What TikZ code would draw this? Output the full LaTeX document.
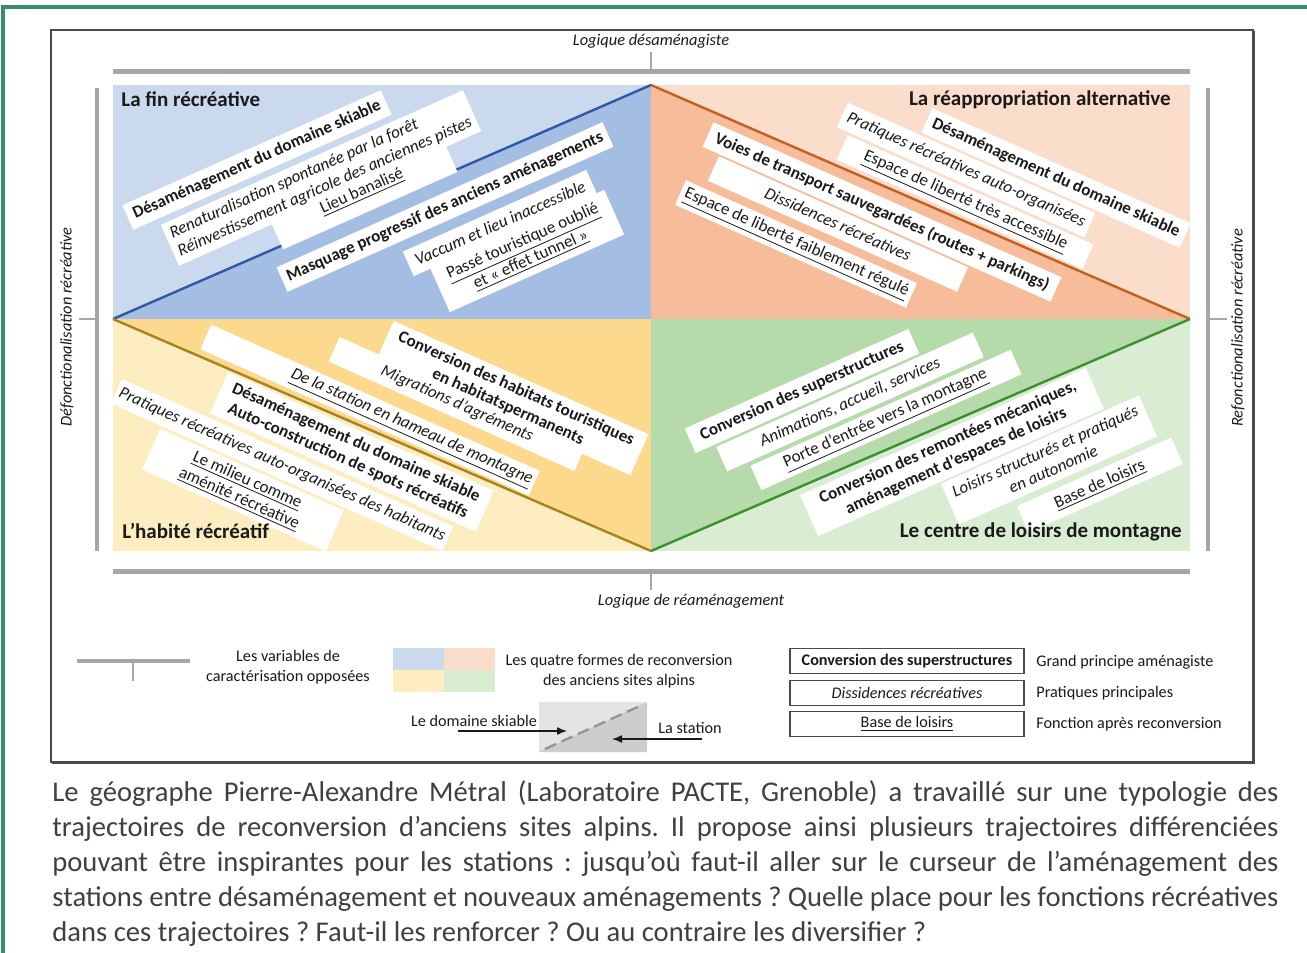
\documentclass[tikz,border=0pt]{standalone}
\usepackage{fontspec}
\setmainfont{Carlito}
\usetikzlibrary{arrows.meta}
\definecolor{blueL}{HTML}{CBD9EE}
\definecolor{blueD}{HTML}{A4BEE3}
\definecolor{blueLine}{HTML}{2E58A6}
\definecolor{orangeL}{HTML}{FBDDCB}
\definecolor{orangeD}{HTML}{F7BD9A}
\definecolor{orangeLine}{HTML}{C55F1F}
\definecolor{yellowL}{HTML}{FDEDC0}
\definecolor{yellowD}{HTML}{FCD98C}
\definecolor{yellowLine}{HTML}{A8831C}
\definecolor{greenL}{HTML}{D8EDD2}
\definecolor{greenD}{HTML}{B6DBAA}
\definecolor{greenLine}{HTML}{3E8E32}
\definecolor{axisgray}{HTML}{A6A6A6}
\definecolor{framegray}{HTML}{4A4A4A}
\definecolor{textc}{HTML}{1A1A1A}
\definecolor{capc}{HTML}{404040}
\definecolor{tealc}{HTML}{3A8C6E}
\definecolor{lgrayA}{HTML}{E4E4E4}
\definecolor{lgrayB}{HTML}{CDCDCD}
\newcommand\boxbf{\fontsize{8.5}{10}\selectfont\bfseries}
\newcommand\boxit{\fontsize{8.5}{10}\selectfont\itshape}
\newcommand\boxrm{\fontsize{8.5}{10}\selectfont}
\newcommand\titlef{\fontsize{10.5}{12}\selectfont\bfseries}
\newcommand\legf{\fontsize{8.1}{10}\selectfont}
\newcommand\axf{\fontsize{8.2}{10}\selectfont\itshape}
\newcommand\capf{\fontsize{14.3}{17.5}\selectfont}
\newcommand\undl[1]{\underline{#1}}
\frenchspacing
\pgfdeclarelayer{back}
\pgfdeclarelayer{boxes}
\pgfsetlayers{back,boxes,main}
\tikzset{
  wb/.style={inner sep=1.5pt, align=center, minimum height=13pt, text=textc},
  bb/.style={wb, font=\boxbf},
  ib/.style={wb, font=\boxit},
  ub/.style={wb, font=\boxrm},
  ttl/.style={font=\titlef, text=textc, inner sep=0pt},
  axl/.style={font=\axf, text=textc, inner sep=0pt},
  lg/.style={font=\legf, text=textc, inner sep=0pt, align=center},
  lbox/.style={draw=framegray, line width=0.8pt, minimum width=117pt, minimum height=12.5pt, inner sep=0pt, text=textc},
  axbar/.style={axisgray, line width=2.5pt},
  axtick/.style={axisgray, line width=1.2pt},
  sidebar/.style={axisgray, line width=1.6pt},
}
\begin{document}
\begin{tikzpicture}[x=0.5pt,y=-0.5pt]
\useasboundingbox (0,0) rectangle (1307,953);
\begin{pgfonlayer}{back}
\fill[white] (0,0) rectangle (1307,953);
\fill[blueL] (113,85) rectangle (651,319);
\fill[orangeL] (651,85) rectangle (1190,319);
\fill[yellowL] (113,319) rectangle (651,551);
\fill[greenL] (651,319) rectangle (1190,551);
\fill[blueD] (113,319) -- (651,85) -- (651,319) -- cycle;
\fill[orangeD] (651,85) -- (1190,319) -- (651,319) -- cycle;
\fill[yellowD] (113,319) -- (651,551) -- (651,319) -- cycle;
\fill[greenD] (1190,319) -- (651,551) -- (651,319) -- cycle;
\draw[blueLine, line width=1.2pt] (113,319) -- (651,85);
\draw[orangeLine, line width=1.2pt] (651,85) -- (1190,319);
\draw[yellowLine, line width=1.2pt] (113,319) -- (651,551);
\draw[greenLine, line width=1.2pt] (651,551) -- (1190,319);
\end{pgfonlayer}
% outer green border
\draw[tealc, line width=1.6pt] (3,953) -- (3,7) -- (1307,7);
% inner frame
\draw[framegray, line width=0.9pt] (51,30) rectangle (1253,762);
\draw[framegray, line width=0.6pt] (1254.5,31) -- (1254.5,763.5) -- (52,763.5);

% axes
\draw[axbar] (113,71) -- (1190,71);
\draw[axtick] (651,52) -- (651,71);
\node[axl] (axT) at (651,41) {Logique désaménagiste};
\draw[axbar] (113,571) -- (1190,571);
\draw[axtick] (651,571) -- (651,590);
\node[axl] (axB) at (691,601) {Logique de réaménagement};
\draw[sidebar] (97,88) -- (97,551);
\draw[axtick] (79,319) -- (97,319);
\node[axl, rotate=90] (axL) at (67,327) {Défonctionalisation récréative};
\draw[sidebar] (1208,88) -- (1208,551);
\draw[axtick] (1208,319) -- (1227,319);
\node[axl, rotate=90] (axR) at (1238,328) {Refonctionalisation récréative};

% quadrant titles
\node[ttl, anchor=west] (q1) at (121,99) {La fin récréative};
\node[ttl, anchor=east] (q2) at (1171,100) {La réappropriation alternative};
\node[ttl, anchor=west] (q3) at (122,531) {L’habité récréatif};
\node[ttl, anchor=east] (q4) at (1182,532) {Le centre de loisirs de montagne};

% top-left
\node[bb, rotate=24, minimum width=141pt] (tlA) at (257,160) {Désaménagement du domaine skiable};
\node[ib, rotate=24, minimum width=165pt, minimum height=22pt, align=left] (tlB) at (321,178) {Renaturalisation spontanée par la forêt\\Réinvestissement agricole des anciennes pistes};
\node[ub, rotate=24, minimum width=95pt, minimum height=20pt] (tlC) at (362,192) {\undl{Lieu banalisé}};
\node[bb, rotate=24, minimum width=178pt] (tlD) at (445,207) {Masquage progressif des anciens aménagements};
\node[ib, rotate=24, minimum width=100pt] (tlE) at (500,223) {Vaccum et lieu inaccessible};
\node[ub, rotate=24, minimum width=95pt, minimum height=24pt] (tlF) at (527,251) {\undl{Passé touristique oublié}\\\undl{et « effet tunnel »}};

% top-right
\node[bb, rotate=-24, minimum width=141pt] (trG) at (1056,178) {Désaménagement du domaine skiable};
\node[ib, rotate=-24, minimum width=135pt] (trH) at (966,170) {Pratiques récréatives auto-organisées};
\node[ub, rotate=-24, minimum width=134pt] (trI) at (965,202) {\undl{Espace de liberté très accessible}};
\node[bb, rotate=-24, minimum width=190pt] (trJ) at (882,212) {Voies de transport sauvegardées (routes + parkings)};
\node[ib, rotate=-24, minimum width=136pt] (trK) at (838,224) {Dissidences récréatives};
\node[ub, rotate=-24, minimum width=126pt] (trL) at (796,244) {\undl{Espace de liberté faiblement régulé}};

% bottom-left
\node[bb, rotate=-24, minimum width=139pt, minimum height=22pt] (blM) at (512,398) {Conversion des habitats touristiques\\en habitatspermanents};
\node[ib, rotate=-24, minimum width=134pt] (blN) at (457,404) {Migrations d’agréments};
\node[ib, rotate=-24, minimum width=170pt] (blO) at (370,410) {\hspace*{45pt}\undl{De la station en hameau de montagne}};
\node[bb, rotate=-24, minimum width=145pt, minimum height=22pt] (blP) at (352,452) {Désaménagement du domaine skiable\\Auto-construction de spots récréatifs};
\node[ib, rotate=-24, minimum width=178pt] (blQ) at (282,465) {Pratiques récréatives auto-organisées des habitants};
\node[ub, rotate=-24, minimum width=100pt, minimum height=22pt] (blR) at (243,490) {\undl{Le milieu comme}\\\undl{aménité récréative}};

% bottom-right
\node[bb, rotate=24, minimum width=122pt] (brS) at (802,391) {Conversion des superstructures};
\node[ib, rotate=24, minimum width=140pt] (brT) at (850,402) {Animations, accueil, services};
\node[ub, rotate=24, minimum width=142pt] (brU) at (886,420) {\undl{Porte d’entrée vers la montagne}};
\node[bb, rotate=24, minimum width=156pt, minimum height=22pt] (brV) at (952,452) {Conversion des remontées mécaniques,\\aménagement d’espaces de loisirs};
\node[ib, rotate=24, minimum width=108pt, minimum height=22pt] (brW) at (1049,460) {Loisirs structurés et pratiqués\\en autonomie};
\node[ub, rotate=24, minimum width=84pt, minimum height=14pt] (brX) at (1100,485) {\undl{Base de loisirs}};

\begin{pgfonlayer}{boxes}
\foreach \n in {tlA,tlB,tlC,tlD,tlE,tlF,trG,trH,trI,trJ,trK,trL,blM,blN,blO,blP,blQ,blR,brS,brT,brU,brV,brW,brX}
  \fill[white] (\n.north west) -- (\n.north east) -- (\n.south east) -- (\n.south west) -- cycle;
\end{pgfonlayer}

% legend
\draw[axisgray, line width=2pt] (77,661) -- (190,661);
\draw[axisgray, line width=1.3pt] (133,661) -- (133,681);
\node[lg] (lvar) at (288,667) {Les variables de\\caractérisation opposées};
\fill[blueL] (393,648) rectangle (444,670);
\fill[orangeL] (444,648) rectangle (495,670);
\fill[yellowL] (393,670) rectangle (444,692);
\fill[greenL] (444,670) rectangle (495,692);
\node[lg] (lquat) at (619,671) {Les quatre formes de reconversion\\des anciens sites alpins};
\fill[lgrayA] (539,702) rectangle (647,752);
\fill[lgrayB] (647,702) -- (647,752) -- (539,752) -- cycle;
\draw[axisgray!90!black, line width=1.2pt, dash pattern=on 6pt off 3pt] (545,749) -- (642,705);
\node[lg] (ldom) at (474,721) {Le domaine skiable};
\coordinate (ldomS) at (458,731);
\coordinate (ldomE) at (567,731);
\draw[textc, line width=0.7pt, -{Latex[length=5pt,width=4pt]}] (ldomS) -- (ldomE);
\node[lg] (lsta) at (690,728) {La station};
\coordinate (lstaS) at (702,739);
\coordinate (lstaE) at (612,739);
\draw[textc, line width=0.7pt, -{Latex[length=5pt,width=4pt]}] (lstaS) -- (lstaE);

\node[lbox, font=\legf\bfseries] (lb1) at (907,661) {Conversion des superstructures};
\node[lbox, font=\legf\itshape] (lb2) at (907,693) {Dissidences récréatives};
\node[lbox, font=\legf] (lb3) at (907,724) {\undl{Base de loisirs}};
\node[lg, anchor=west] (lt1) at (1036,662) {Grand principe aménagiste};
\node[lg, anchor=west] (lt2) at (1036,693) {Pratiques principales};
\node[lg, anchor=west] (lt3) at (1036,724) {Fonction après reconversion};

% caption
\node[anchor=north west, inner sep=0pt, font=\capf, text=capc, align=left] (cap) at (52,780) {%
\makebox[613pt][s]{Le géographe Pierre-Alexandre Métral (Laboratoire PACTE, Grenoble) a travaillé sur une typologie des}\\
\makebox[613pt][s]{trajectoires de reconversion d’anciens sites alpins. Il propose ainsi plusieurs trajectoires différenciées}\\
\makebox[613pt][s]{pouvant être inspirantes pour les stations : jusqu’où faut-il aller sur le curseur de l’aménagement des}\\
\makebox[613pt][s]{stations entre désaménagement et nouveaux aménagements ? Quelle place pour les fonctions récréatives}\\
dans ces trajectoires ? Faut-il les renforcer ? Ou au contraire les diversifier ?};
\end{tikzpicture}
\end{document}
